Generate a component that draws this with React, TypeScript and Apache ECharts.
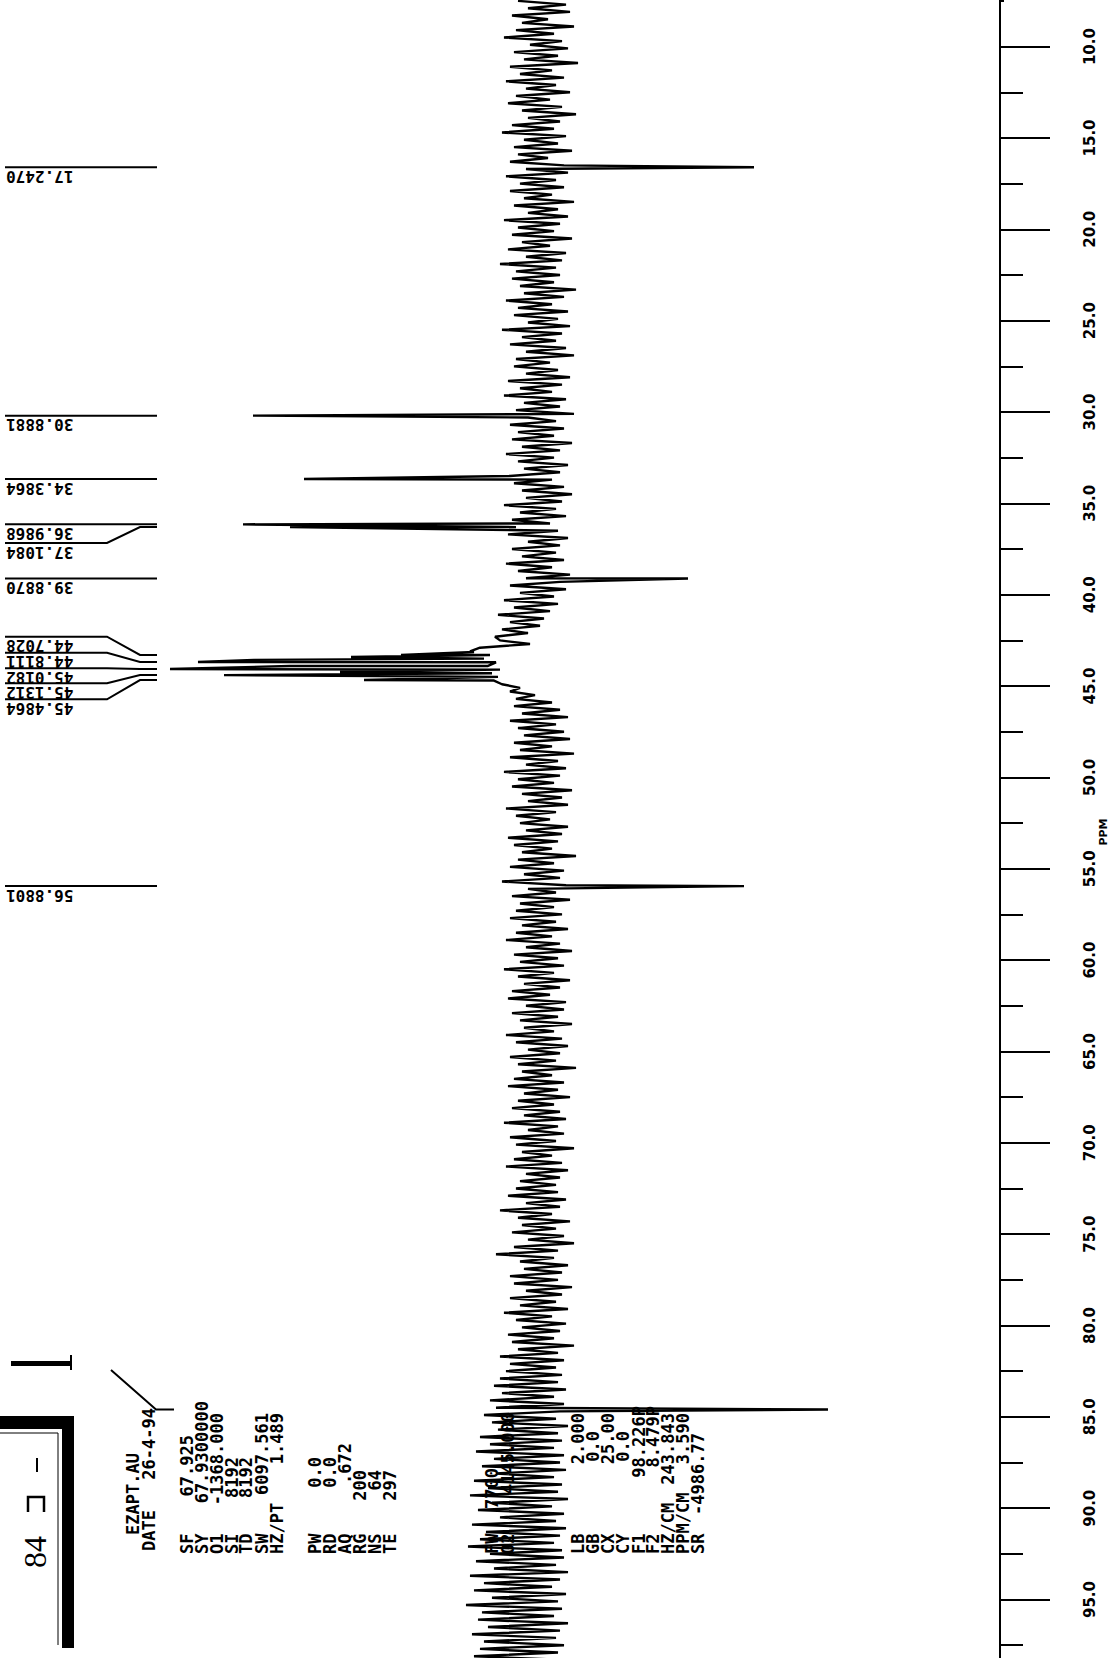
import React, { useEffect, useRef } from "react";
import * as echarts from "echarts";

// ---------------- DATA ----------------
// spectrum baseline noise, one value every 0.2 ppm starting at 7.5 ppm (intensity units)
const NOISE_START = 7.5;
const NOISE_STEP = 0.2;
const noise = [
  -22, 26, -12, 30, -28, 8, -18, 34, -24, 14, -36, 22, -10, 28, -26, 18, -16, 38, -30, 12, -20, 24, -34, 16, -14,
  30, -24, 10, -32, 22, -18, 36, -12, 20, -28, 14, -38, 26, -16, 18, -26, 32, -22, 8, -30, 24, -14, 28, -34, 16,
  -20, 24, -30, 12, -16, 34, -26, 18, -12, 28, -36, 20, -22, 14, -28, 32, -18, 10, -32, 26, -14, 22, -40, 16, -24,
  20, -28, 14, -20, 36, -16, 24, -34, 12, -22, 28, -26, 18, -12, 30, -38, 22, -18, 16, -30, 26, -14, 34, -24, 10,
  -26, 18, -14, 30, -32, 22, -20, 12, -36, 26, -16, 20, -24, 34, -12, 16, -30, 24, -22, 14, -28, 32, -18, 20, -34,
  14, -22, 28, -16, 20, -30, 12, -26, 24, -18, 32, -14, 22, -36, 16, -20, 26, -28, 10, -24, 18, -32, 28, -12, 20,
  -28, 16, -18, 24, -34, 12, -22, 30, -14, 20, -30, 26, -20, 14, -36, 18, -26, 10, -42, 4, -30, 0, -38, -12, -45,
  -40, -10, -60, -70, -50, -56, -44, -52, -40, -48, -42, -46, -38, -20, -30, -5, -24, 12, -26, 20, -18, 28, -30, 16, -22,
  24, -16, 30, -26, 12, -20, 34, -30, 18, -14, 26, -36, 20, -22, 14, -28, 32, -18, 22, -12, 28, -34, 16, -24, 10,
  -20, 28, -14, 22, -32, 18, -26, 12, -18, 36, -22, 14, -30, 24, -16, 20, -38, 26, -12, 16, -28, 30, -20, 14, -24,
  22, -30, 16, -18, 28, -24, 12, -34, 20, -14, 32, -26, 18, -20, 24, -36, 14, -22, 30, -16, 20, -28, 10, -32, 26,
  -14, 24, -28, 18, -20, 32, -16, 14, -34, 22, -24, 28, -12, 20, -30, 16, -22, 36, -18, 12, -26, 24, -32, 18, -16,
  30, -22, 14, -28, 20, -16, 26, -36, 18, -12, 24, -30, 16, -24, 34, -18, 12, -26, 22, -34, 28, -14, 20, -20, 16,
  -24, 18, -32, 26, -14, 20, -40, 12, -22, 30, -18, 16, -28, 24, -12, 34, -26, 18, -44, 14, -20, 28, -16, 22, -30,
  18, -26, 32, -14, 22, -30, 16, -20, 28, -36, 12, -24, 26, -18, 20, -32, 14, -28, 34, -22, 18, -40, 24, -30, 16,
  -34, 22, -40, 18, -46, 26, -38, 14, -50, 24, -44, 20, -56, 16, -48, 28, -42, 18, -60, 22, -50, 14, -64, 24, -46,
  20, -58, 26, -44, 14, -66, 22, -52, 18, -70, 28, -48, 12, -62, 24, -40, 16, -68, 26, -54, 20, -60, 14, -72, 22,
  -50, 24, -64, 16, -46, 28, -70, 20, -56, 12, -66, 26, -48, 18, -74, 22, -58, 14, -62, 28, -52, 20, -68, 16, -56,
  24, -60, 18, -66, 22,
];

// peaks (ppm on the axis, signed intensity: + = right of baseline, - = left)
const peakPpm = [16.6, 30.2, 33.67, 36.15, 36.3, 39.11, 43.14, 43.3, 43.41, 43.57, 43.68, 43.9, 44.07, 44.23, 44.4, 44.67, 55.95, 84.6];
const peakIntensity = [214, -287, -236, -297, -250, 148, -66, -139, -189, -286, -342, -250, -370, -200, -316, -176, 204, 288];

// peak labels (printed upside down) and the peak each one points to
const labelTexts = ["17.2470", "30.8881", "34.3864", "36.9868", "37.1084", "39.8870", "44.7028", "44.8111", "45.0182", "45.1312", "45.4864", "56.8801"];
const labelPeakPpm = [16.6, 30.2, 33.67, 36.15, 36.3, 39.11, 43.3, 43.68, 44.07, 44.4, 44.67, 55.95];

// ruler
const AXIS_MIN = 5;
const AXIS_MAX = 100;
const AXIS_INTERVAL = 5;
const axisLabelFirst = 10;
const axisLabelLast = 95;
const axisName = "PPM";

// acquisition parameters
const titleLine = "EZAPT.AU";
const dateName = "DATE";
const dateValue = "26-4-94";
const paramNames = ["SF", "SY", "O1", "SI", "TD", "SW", "HZ/PT", "PW", "RD", "AQ", "RG", "NS", "TE", "FW", "O2", "LB", "GB", "CX", "CY", "F1", "F2", "HZ/CM", "PPM/CM", "SR"];
const paramValues = ["67.925", "67.9300000", "-1368.000", "8192", "8192", "6097.561", "1.489", "0.0", "0.0", ".672", "200", "64", "297", "7700", "4145.000", "2.000", "0.0", "25.00", "0.0", "98.226P", "8.479P", "243.843", "3.590", "-4986.77"];
const pageNumber = "84";

// ---------------- LAYOUT ----------------
const PX_PER_PPM = 18.27;
const Y_AT_10 = 46.6;
const GRID_TOP = Y_AT_10 - (10 - AXIS_MIN) * PX_PER_PPM;
const GRID_HEIGHT = (AXIS_MAX - AXIS_MIN) * PX_PER_PPM;
const RULER_X = 1010;

const paramColX = [187, 202, 217, 232, 246, 262, 277, 315, 330, 345, 360, 375, 390, 492, 508, 578, 593, 608, 623, 639, 653, 668, 683, 698];
const paramEndY = [1435, 1401, 1413, 1457, 1457, 1413, 1413, 1457, 1457, 1443, 1470, 1470, 1470, 1468, 1412, 1413, 1431, 1413, 1431, 1406, 1406, 1413, 1413, 1433];
const PARAM_START_Y = 1554;
const labelRowY: (number | null)[] = [null, null, null, null, 543, null, 636.7, 652.7, 668.3, 683.3, 699.3, null];

export default function App() {
  const ref = useRef<HTMLDivElement>(null);

  useEffect(() => {
    const chart = echarts.init(ref.current!, null, { renderer: "svg" });

    const points: [number, number][] = [];
    noise.forEach((v, i) => points.push([v, NOISE_START + i * NOISE_STEP]));
    peakPpm.forEach((p, i) => points.push([peakIntensity[i], p]));
    points.sort((a, b) => a[1] - b[1]);

    chart.setOption({
      animation: false,
      backgroundColor: "#ffffff",
      grid: [
        { left: 140, width: 800, top: GRID_TOP, height: GRID_HEIGHT, outerBoundsMode: "none", containLabel: false },
        { left: RULER_X - 10, width: 10, top: GRID_TOP, height: GRID_HEIGHT, outerBoundsMode: "none", containLabel: false },
      ],
      xAxis: [
        { gridIndex: 0, type: "value", min: -400, max: 400, show: false },
        { gridIndex: 1, type: "value", min: 0, max: 1, show: false },
      ],
      yAxis: [
        { gridIndex: 0, type: "value", min: AXIS_MIN, max: AXIS_MAX, inverse: true, show: false },
        {
          gridIndex: 1,
          type: "value",
          min: AXIS_MIN,
          max: AXIS_MAX,
          interval: AXIS_INTERVAL,
          inverse: true,
          position: "right",
          axisLine: { show: true, lineStyle: { color: "#000", width: 2 } },
          axisTick: { show: true, length: 50, lineStyle: { color: "#000", width: 2 } },
          minorTick: { show: true, splitNumber: 2, length: 23, lineStyle: { color: "#000", width: 2 } },
          splitLine: { show: false },
          axisLabel: {
            rotate: 90,
            margin: 72,
            color: "#000",
            fontFamily: "DejaVu Sans",
            fontWeight: "bold",
            fontSize: 15,
            formatter: (v: number) => (v < axisLabelFirst || v > axisLabelLast ? "" : v.toFixed(1)),
          },
        },
      ],
      series: [
        {
          type: "line",
          xAxisIndex: 0,
          yAxisIndex: 0,
          data: points,
          showSymbol: false,
          symbol: "none",
          silent: true,
          lineStyle: { color: "#000", width: 2.4 },
        },
      ],
    });

    const yOf = (p: number) => chart.convertToPixel({ yAxisIndex: 0 }, p) as number;
    const els: any[] = [];
    const blk = "#000";

    // top of the ruler line starts a little below the page edge
    els.push({ type: "rect", z: 100, shape: { x: RULER_X - 6, y: 0, width: 40, height: 14 }, style: { fill: "#fff" } });

    // peak labels + leaders
    labelTexts.forEach((t, i) => {
      const endY = yOf(labelPeakPpm[i]);
      const rowY = labelRowY[i] == null ? endY : (labelRowY[i] as number);
      if (labelRowY[i] == null) {
        els.push({ type: "line", shape: { x1: 5, y1: rowY, x2: 157, y2: rowY }, style: { stroke: blk, lineWidth: 2 } });
      } else {
        els.push({
          type: "polyline",
          shape: { points: [[5, rowY], [107, rowY], [140, endY], [157, endY]] },
          style: { stroke: blk, fill: "none", lineWidth: 2 },
        });
      }
      els.push({
        type: "text",
        x: 6,
        y: rowY + 1,
        rotation: Math.PI,
        style: { text: t, fill: blk, fontFamily: "DejaVu Sans Mono", fontWeight: "bold", fontSize: 16, align: "right", verticalAlign: "bottom" },
      });
    });

    // obscured label of the 84 ppm peak
    const y84 = yOf(84.6);
    els.push({ type: "rect", shape: { x: 11, y: 1361, width: 60, height: 5 }, style: { fill: blk } });
    els.push({ type: "line", shape: { x1: 71, y1: 1355, x2: 71, y2: 1370 }, style: { stroke: blk, lineWidth: 2 } });
    els.push({
      type: "polyline",
      shape: { points: [[111, 1370], [156, y84], [174, y84]] },
      style: { stroke: blk, fill: "none", lineWidth: 2 },
    });

    // parameter block
    const txt = (x: number, y: number, text: string, align: string) => ({
      type: "text",
      x,
      y,
      rotation: Math.PI / 2,
      style: { text, fill: blk, fontFamily: "DejaVu Sans Mono", fontWeight: "bold", fontSize: 17, align, verticalAlign: "middle" },
    });
    els.push(txt(133, 1535, titleLine, "left"));
    els.push(txt(149, 1551, dateName, "left"));
    els.push(txt(149, 1408, dateValue, "right"));
    paramNames.forEach((n, i) => {
      els.push(txt(paramColX[i], PARAM_START_Y, n, "left"));
      els.push(txt(paramColX[i], paramEndY[i], paramValues[i], "right"));
    });

    // page number box
    els.push({ type: "rect", shape: { x: 0, y: 1416, width: 74, height: 13 }, style: { fill: blk } });
    els.push({ type: "rect", shape: { x: 62, y: 1416, width: 12, height: 232 }, style: { fill: blk } });
    els.push({ type: "line", shape: { x1: 0, y1: 1433, x2: 58, y2: 1433 }, style: { stroke: blk, lineWidth: 1 } });
    els.push({ type: "line", shape: { x1: 58, y1: 1433, x2: 58, y2: 1645 }, style: { stroke: blk, lineWidth: 1 } });
    els.push({ type: "line", shape: { x1: 37, y1: 1458, x2: 37, y2: 1472 }, style: { stroke: blk, lineWidth: 2 } });
    els.push({
      type: "polyline",
      shape: { points: [[28, 1512], [28, 1497], [44, 1497], [44, 1512]] },
      style: { stroke: blk, fill: "none", lineWidth: 2.5 },
    });
    els.push({
      type: "text",
      x: 35,
      y: 1552,
      rotation: Math.PI / 2,
      style: { text: pageNumber, fill: blk, fontFamily: "Liberation Serif", fontSize: 32, align: "center", verticalAlign: "middle" },
    });

    // axis unit
    els.push({
      type: "text",
      x: 1103,
      y: 832,
      rotation: Math.PI / 2,
      style: { text: axisName, fill: blk, fontFamily: "DejaVu Sans", fontWeight: "bold", fontSize: 11, align: "center", verticalAlign: "middle" },
    });

    chart.setOption({ graphic: { elements: els } });

    return () => chart.dispose();
  }, []);

  return (
    <div
      ref={ref}
      style={{ position: "absolute", left: 0, top: 0, width: 1111, height: 1658, background: "#ffffff" }}
    />
  );
}
